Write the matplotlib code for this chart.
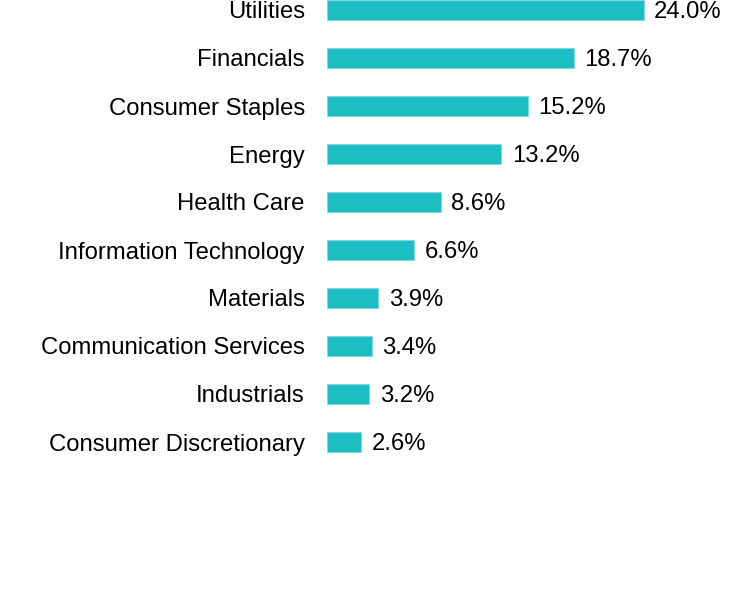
import numpy as np
import matplotlib.pyplot as plt

sectors = ["Utilities", "Financials", "Consumer Staples", "Energy", "Health Care",
           "Information Technology", "Materials", "Communication Services",
           "Industrials", "Consumer Discretionary"]
weights = [24.0, 18.7, 15.2, 13.2, 8.6, 6.6, 3.9, 3.4, 3.2, 2.6]

bar_color = "#1BBFC3"

plt.rcParams['font.family'] = ['Liberation Sans', 'DejaVu Sans']

fig = plt.figure(figsize=(7.32, 6.0), dpi=100)
# axes spans from the bar baseline to the right edge of the figure
ax = fig.add_axes([327 / 732, 0, 405 / 732, 1])

pos = np.arange(len(sectors))
ax.barh(pos, weights, height=0.42, color=bar_color, edgecolor="#7fd9db", linewidth=0.6)

for y, v in zip(pos, weights):
    ax.annotate("{:.1f}%".format(v), (v, y), xytext=(7.5, -1.8), textcoords="offset points",
                ha="left", va="center", fontsize=17.2, color="black")

ax.set_xlim(0, 405 / 13.2)
ax.set_ylim(590 / 48, -10 / 48)
ax.set_yticks(pos)
ax.set_yticklabels(sectors, fontsize=17.2)
ax.tick_params(axis="y", length=0, pad=16)
ax.set_xticks([])
for s in ax.spines.values():
    s.set_visible(False)

fig.savefig("out.png", dpi=100)
